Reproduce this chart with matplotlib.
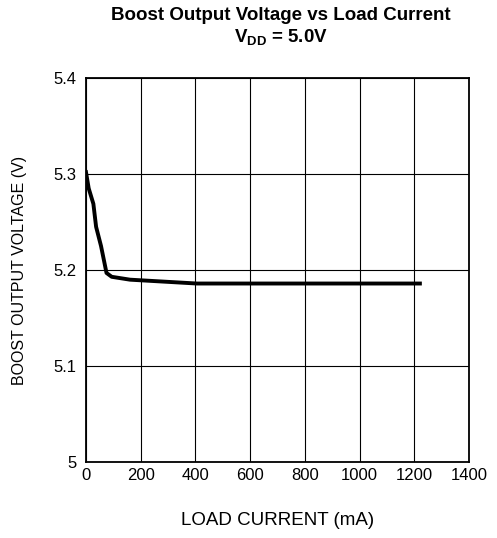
import matplotlib
matplotlib.use("Agg")
import matplotlib.pyplot as plt

plt.rcParams['font.family'] = ['Liberation Sans', 'DejaVu Sans']
plt.rcParams['mathtext.fontset'] = 'custom'
plt.rcParams['mathtext.rm'] = 'Liberation Sans'
plt.rcParams['mathtext.bf'] = 'Liberation Sans:bold'

# load current (mA) and boost output voltage (V)
current = [0, 10, 27, 37, 55, 75, 94, 161, 283, 405, 600, 800, 1000, 1220]
voltage = [5.302, 5.285, 5.269, 5.245, 5.225, 5.197, 5.193, 5.190, 5.188, 5.186, 5.186, 5.186, 5.186, 5.186]

x_ticks = [0, 200, 400, 600, 800, 1000, 1200, 1400]
y_ticks = [5.0, 5.1, 5.2, 5.3, 5.4]
y_labels = ['5', '5.1', '5.2', '5.3', '5.4']

fig = plt.figure(figsize=(4.97, 5.38), dpi=100)
ax = fig.add_axes([0.173, 0.141, 0.771, 0.714])

ax.plot(current, voltage, color='black', linewidth=2.8, solid_joinstyle='round')

ax.set_xlim(0, 1400)
ax.set_ylim(5.0, 5.4)
ax.set_xticks(x_ticks)
ax.set_yticks(y_ticks)
ax.set_yticklabels(y_labels)
ax.tick_params(length=0, labelsize=12)
ax.tick_params(axis='x', pad=4)
ax.tick_params(axis='y', pad=7)
ax.grid(True, color='black', linewidth=0.8)
for s in ax.spines.values():
    s.set_linewidth(1.3)

ax.set_xlabel('LOAD CURRENT (mA)', fontsize=13.5, labelpad=21)
ax.set_ylabel('BOOST OUTPUT VOLTAGE (V)', fontsize=11.5, labelpad=19)

fig.text(0.565, 0.987, 'Boost Output Voltage vs Load Current', ha='center', va='top',
         fontsize=13.5, fontweight='bold')
fig.text(0.565, 0.950, r'$\mathbf{V_{DD}}$ = 5.0V', ha='center', va='top',
         fontsize=13.5, fontweight='bold')

fig.savefig('out.png', dpi=100)
